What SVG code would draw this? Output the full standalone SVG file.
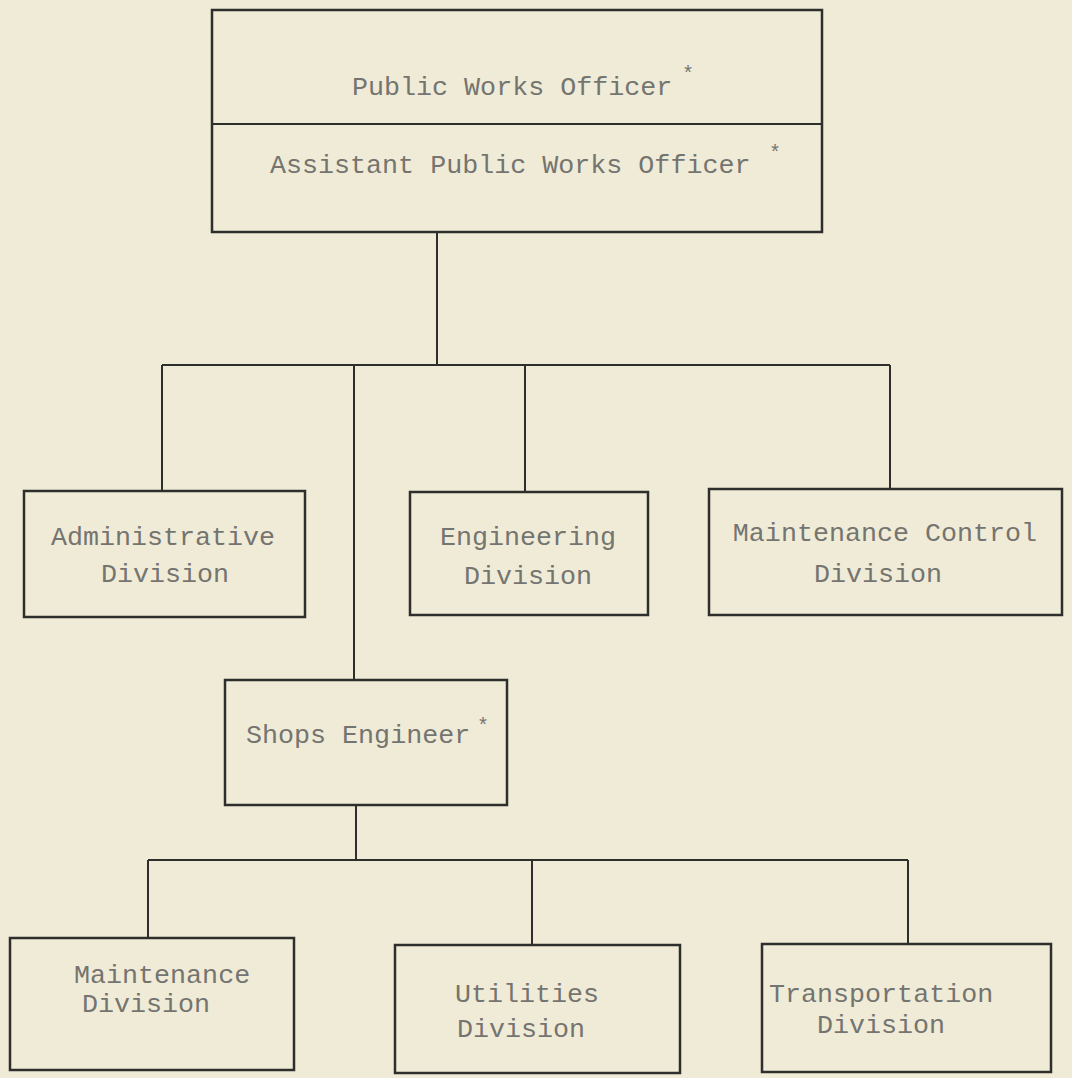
<svg xmlns="http://www.w3.org/2000/svg" width="1072" height="1078" viewBox="0 0 1072 1078">
<style>
.box{fill:none;stroke:#2e2e2c;stroke-width:2.5}
.ln{fill:none;stroke:#2e2e2c;stroke-width:2}
.t{font-family:"Liberation Mono","DejaVu Sans Mono",monospace;font-size:26.7px;fill:#747470}
.c{text-anchor:middle}
.s{font-family:"Liberation Mono","DejaVu Sans Mono",monospace;font-size:20px;fill:#747470}
</style>
<rect width="1072" height="1078" fill="#f0ebd6"/>
<g id="connectors">
<path class="ln" d="M437 232V365M162 365H890M162 365V491M354 365V680M525 365V492M890 365V489"/>
<path class="ln" d="M356 805V860M148 860H908M148 860V938M532 860V945M908 860V944"/>
</g>
<g id="pwo">
<rect class="box" x="212" y="10" width="610" height="222"/>
<line class="ln" x1="212" y1="124" x2="822" y2="124"/>
<text class="t" x="352" y="95">Public Works Officer</text>
<text class="s" x="682" y="80">*</text>
<text class="t" x="270" y="173">Assistant Public Works Officer</text>
<text class="s" x="769" y="159">*</text>
</g>
<g id="admin">
<rect class="box" x="24" y="491" width="281" height="126"/>
<text class="t c" x="163" y="545">Administrative</text>
<text class="t c" x="165" y="582">Division</text>
</g>
<g id="eng">
<rect class="box" x="410" y="492" width="238" height="123"/>
<text class="t c" x="528" y="545">Engineering</text>
<text class="t c" x="528" y="584">Division</text>
</g>
<g id="mc">
<rect class="box" x="709" y="489" width="353" height="126"/>
<text class="t c" x="885" y="541">Maintenance Control</text>
<text class="t c" x="878" y="582">Division</text>
</g>
<g id="shops">
<rect class="box" x="225" y="680" width="282" height="125"/>
<text class="t" x="246" y="743">Shops Engineer</text>
<text class="s" x="477" y="732">*</text>
</g>
<g id="maint">
<rect class="box" x="10" y="938" width="284" height="132"/>
<text class="t" x="74" y="983">Maintenance</text>
<text class="t" x="82" y="1012">Division</text>
</g>
<g id="util">
<rect class="box" x="395" y="945" width="285" height="128"/>
<text class="t" x="455" y="1002">Utilities</text>
<text class="t" x="457" y="1037">Division</text>
</g>
<g id="trans">
<rect class="box" x="762" y="944" width="289" height="128"/>
<text class="t" x="769" y="1002">Transportation</text>
<text class="t" x="817" y="1033">Division</text>
</g>
</svg>
